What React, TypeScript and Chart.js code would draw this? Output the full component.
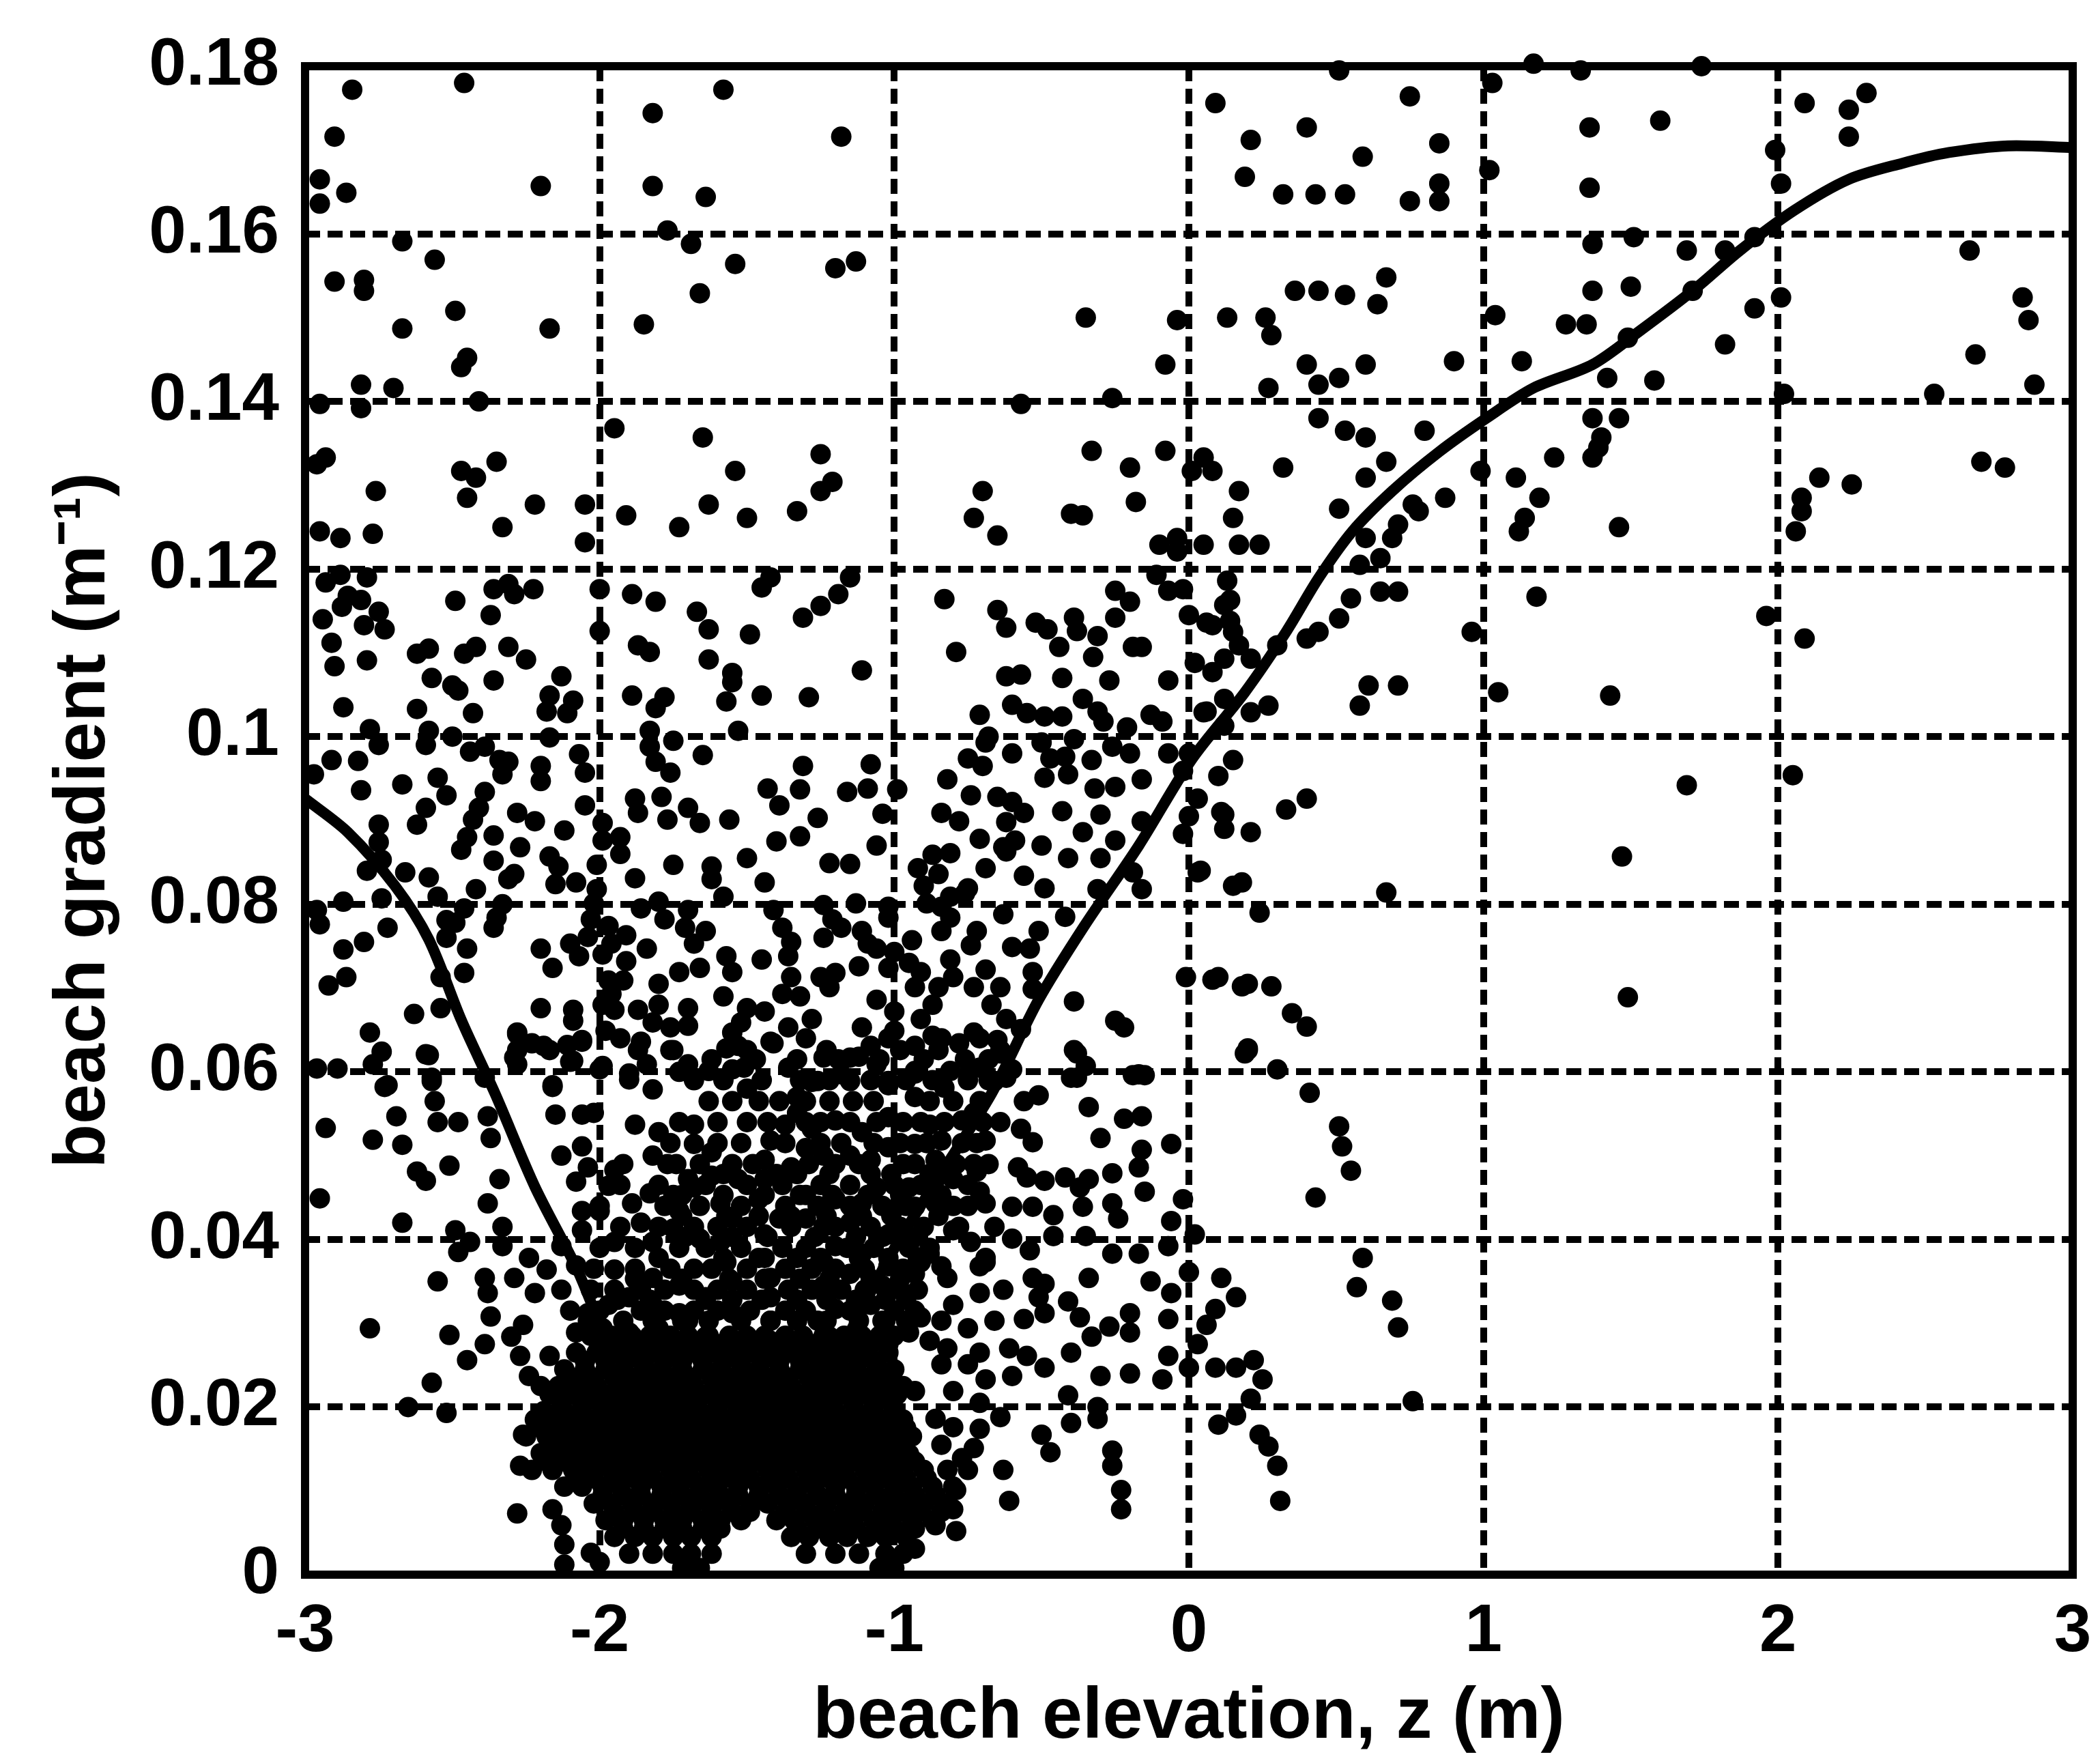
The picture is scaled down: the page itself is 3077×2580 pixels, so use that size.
import React, { useEffect, useRef } from "react";
import { Chart, registerables } from "chart.js";

Chart.register(...registerables);

const xTickLabels = ["-3", "-2", "-1", "0", "1", "2", "3"];
const yTickLabels = ["0", "0.02", "0.04", "0.06", "0.08", "0.1", "0.12", "0.14", "0.16", "0.18"];

// fitted curve: x, y
const curve = [-3,.0926,-2.855,.0886,-2.695,.0822,-2.58,.0758,-2.47,.0662,-2.355,.0574,-2.22,.0463,-2.08,.0367,-1.97,.0279,-1.81,.02,-1.63,.0136,-1.445,.0136,-1.26,.0215,-1.13,.0303,-1.01,.0383,-.855,.0471,-.67,.0574,-.51,.0686,-.355,.0774,-.17,.087,.01,.0973,.19,.1053,.33,.1125,.44,.1189,.555,.1245,.69,.1293,.85,.134,1.01,.138,1.17,.1416,1.37,.1444,1.53,.1484,1.71,.1532,1.87,.158,2.055,.1628,2.24,.1665,2.42,.1684,2.58,.1697,2.78,.1705,3,.1703];

// observations: x, y, x, y ...
const upperLeft = [-2.84,.1772,-2.46,.178,-2.9,.1716,-2.95,.1665,-2.86,.1649,-2.95,.1636,-2.2,.1657,-1.82,.1744,-1.58,.1772,-1.82,.1657,-1.64,.1644,-1.77,.1604,-1.69,.1588,-1.66,.1529,-1.54,.1564,-1.18,.1716,-1.2,.1559,-1.13,.1567,-1.85,.1492,-2.17,.1487,-2.67,.1487,-2.67,.1591,-2.56,.1569,-2.9,.1543,-2.8,.1532,-2.8,.1545,-2.49,.1508,-2.45,.1452,-2.47,.1441,-2.7,.1416,-2.81,.142,-2.41,.14,-2.95,.1397,-2.81,.1392,-.35,.15,-.57,.1397,-.26,.1404,-2.96,.1325,-2.93,.1333,-2.76,.1293,-2.47,.1317,-2.42,.1309,-2.35,.1328,-2.45,.1285,-2.22,.1277,-2.05,.1277,-1.95,.1368,-1.65,.1357,-1.54,.1317,-1.63,.1277,-1.5,.1261,-1.73,.125,-1.91,.1264,-1.25,.1337,-1.21,.1304,-1.25,.1293,-1.33,.1269,-2.33,.125,-2.95,.1245,-2.88,.1237,-2.77,.1242,-2.05,.1232,-.7,.1293,-.73,.1261,-.65,.124,-.4,.1266,-.36,.1264,-.33,.1341,-.2,.1321,-.18,.128,-.08,.1341,.01,.1317,.05,.1333,.08,.1317,.17,.1293,.15,.1261,-.1,.1229,-.04,.1237];

const upperRight = [.09,.1756,.21,.1712,.4,.1727,.19,.1668,.32,.1647,.59,.1692,.43,.1647,.53,.1647,.51,.1795,.75,.1764,.85,.1708,1.03,.178,.75,.1639,.85,.166,.85,.1639,1.02,.1676,1.17,.1803,1.33,.1795,1.36,.1727,1.6,.1735,1.74,.18,1.36,.1655,1.37,.1588,1.51,.1596,1.37,.1532,1.5,.1537,1.99,.17,2.09,.1756,2.24,.1748,2.3,.1768,2.24,.1716,2.01,.166,1.92,.1596,2.65,.158,2.83,.1524,2.85,.1497,2.01,.1524,-.04,.1497,-.08,.1444,.13,.15,.26,.15,.28,.1479,.36,.1532,.44,.1532,.53,.1527,.64,.1516,.67,.1548,1.04,.1503,.9,.1448,1.13,.1448,1.28,.1492,1.35,.1492,1.49,.1476,1.82,.1468,1.92,.1511,1.71,.1532,1.82,.158,1.69,.158,2.53,.1409,2.67,.1456,2.87,.142,2.02,.1409,1.58,.1425,1.42,.1428,2.69,.1328,2.77,.1321,2.25,.1301,2.14,.1309,2.08,.1285,2.08,.1269,2.06,.1245,2.09,.1117,1.96,.1144,2.05,.0954,1.69,.0942,1.43,.1049,1.05,.1053,1.18,.1167,1.47,.0857,1.49,.0689,.96,.1125,1.46,.125,1.37,.138,1.4,.1357,1.37,.1333,1.24,.1333,1.14,.1261,1.12,.1245,1.19,.1285,.99,.1317,1.11,.1309,.8,.1365,1.46,.138,1.39,.1345,.32,.1321,.51,.1272,.6,.1309,.67,.1328];

const rightOfCentre = [.27,.1416,.4,.1444,.44,.142,.51,.1428,.6,.1444,.44,.138,.53,.1365,.6,.1357,.76,.1277,.71,.1253,.69,.1237,.6,.1237,.65,.1213,.58,.1205,.71,.1173,.65,.1173,.55,.1165,.51,.1141,.44,.1125,.4,.1117,.78,.1269,.87,.1285,.71,.1061,.61,.1061,.58,.1037,.3,.1109,.21,.1093,.27,.1037,.21,.1029,.08,.1077,.05,.1029,.12,.1013,.4,.0926,.33,.0913,.21,.0886,.11,.091,.03,.0926,-.04,.1221,.05,.1229,.17,.1229,.24,.1229,.12,.1157,.08,.1133,.15,.1125,.12,.1093,.67,.0814,.24,.079,.15,.0822,.03,.0838,.08,.071,.18,.0702,.28,.0702,.35,.067,.4,.0654,.19,.0622,.3,.0603,.41,.0575,.51,.0535,.52,.0511,.55,.0482,.43,.045,.59,.0378,.57,.0343,.69,.0327,.71,.0295,.76,.0207];

const midBandA = [-2.93,.1184,-2.88,.1193,-2.79,.119,-2.855,.1168,-2.81,.1163,-2.875,.1155,-2.49,.1162,-2.36,.1176,-2.31,.1182,-2.29,.117,-2.225,.1176,-2,.1176,-1.89,.117,-1.81,.1161,-1.67,.1149,-1.63,.1128,-1.49,.1122,-1.31,.1142,-1.25,.1156,-1.19,.117,-1.45,.1178,-1.42,.119,-1.15,.119,-.83,.1164,-.65,.1151,-.62,.113,-.52,.1136,-.48,.1128,-.39,.1142,-.38,.1126,-.31,.112,-.44,.1107,-.325,.1095,-.19,.1107,-.16,.1107,-.25,.1174,-.2,.1161,-.25,.1142,-.07,.1174,-.02,.1176,-.11,.1193,.13,.1186,.14,.1163,.14,.1138,.06,.1136,0,.1145,.17,.1109,.02,.1088,-2.94,.114,-2.8,.1133,-2.73,.1128,-2.75,.1149,-2.91,.1112,-2.37,.1145,-2.58,.1105,-2.62,.1099,-2.42,.1107,-2.46,.1099,-2.31,.1107,-2.25,.1092,-2.9,.1084,-2.79,.1091,-1.87,.1109,-1.83,.1101,-1.63,.1092,-2,.1126,-.79,.1101,-1.11,.1079,-.62,.1072,-.57,.1074,-.43,.107,-.27,.1067,-.07,.1067,-2.57,.107,-2.5,.1061,-2.48,.1055,-2.36,.1067,-2.13,.1072,-1.55,.1076,-1.55,.1065];

const midBandB = [-2.87,.1035,-2.62,.1033,-2.43,.1028,-2.17,.1049,-2.18,.103,-2.09,.1043,-2.11,.1028,-1.89,.1049,-1.78,.1047,-1.81,.1034,-1.57,.1042,-1.45,.1049,-1.29,.1047,-.71,.1026,-.6,.1038,-.55,.1028,-.49,.1024,-.43,.1024,-.36,.1045,-.31,.103,-.29,.1018,-.21,.1011,-.13,.1026,-.09,.1018,.06,.103,.12,.1045,-2.78,.1009,-2.75,.099,-2.58,.1007,-2.59,.099,-2.5,.1,-2.17,.0999,-2.44,.0982,-2.39,.0988,-2.34,.0972,-2.31,.097,-2.33,.0955,-2.2,.0965,-2.2,.0947,-2.07,.0979,-2.05,.0957,-2.91,.0972,-2.82,.0971,-2.97,.0955,-1.83,.1007,-1.83,.0988,-1.81,.097,-1.76,.0957,-1.75,.0995,-1.65,.0978,-1.53,.1007,-1.31,.0965,-1.08,.0967,-.69,.0993,-.68,.1,-.75,.0974,-.7,.0965,-.6,.098,-.5,.0993,-.47,.0974,-.39,.0997,-.42,.0976,-.33,.0972,-.49,.0951,-.41,.0955,-.26,.0988,-.2,.098,-.07,.098,-.02,.0959,0,.098,-.16,.0949,-.82,.0949,.15,.0972,.1,.0953];

const midBandC = [-2.81,.0936,-2.67,.0943,-2.55,.0951,-2.52,.093,-2.59,.0915,-2.39,.0934,-2.41,.0915,-2.43,.0901,-2.62,.0895,-2.75,.0895,-2.75,.0874,-2.28,.0909,-2.22,.0899,-2.12,.0888,-2.05,.0918,-1.99,.0897,-1.99,.0876,-1.93,.088,-1.88,.0926,-1.87,.0909,-1.79,.0928,-1.77,.0901,-1.7,.0915,-1.66,.0897,-1.56,.0901,-1.43,.0938,-1.39,.0918,-1.32,.0937,-1.26,.0903,-1.32,.0881,-1.4,.0875,-1.16,.0934,-1.09,.0938,-.99,.0937,-1.04,.0908,-.32,.0938,-.25,.094,-.74,.093,-.65,.0928,-.6,.0922,-.56,.0909,-.84,.0909,-.78,.0899,-.62,.0898,-.43,.0911,-.3,.0907,-.36,.0886,-.16,.0899,.12,.0907,.12,.089,0,.0905,-.02,.0884,-.25,.0876,-.5,.087,-.71,.0878,-.63,.0868,-.59,.0876,-1.06,.087,-2.45,.088,-2.47,.0865,-2.36,.0882,-2.27,.0868,-2.17,.0857,-2.14,.0845,-1.93,.086,-2.36,.0852,-2.79,.084,-2.74,.0853,-2.66,.0838,-2.58,.0832,-2.29,.0836,-2.31,.083,-2.42,.0818,-1.75,.0847,-1.62,.0845,-1.62,.083,-1.5,.0855,-1.44,.0826,-1.22,.0849,-1.15,.0848,-1.88,.0831,-2.01,.0847,-2.08,.0826,-2.15,.0824,-2.01,.0818,-.87,.0859,-.81,.0861,-.92,.0843,-.85,.0836,-.9,.0822,-.69,.0843,-.56,.0834,-.49,.0819,-.41,.0855,-.3,.0855,-.62,.0863,.04,.084,.18,.0826,-.19,.0838,-.16,.0818,-.31,.0818,-.75,.0819,-.81,.0809,-1.58,.0809];

const midBandD = [-2.87,.0803,-2.74,.0807,-2.55,.0809,-2.33,.08,-2.96,.0793,-2.95,.0776,-2.72,.0772,-2.52,.0781,-2.46,.0795,-2.49,.0778,-2.35,.0784,-2.36,.0772,-2.52,.076,-2.45,.0747,-2.8,.0755,-2.87,.0746,-2.2,.0747,-2.02,.0801,-2.03,.0782,-1.97,.0774,-1.91,.0763,-1.84,.0747,-2.04,.0761,-2.1,.0753,-2.07,.0738,-1.99,.074,-1.96,.0753,-1.91,.0732,-1.86,.0795,-1.8,.0803,-1.78,.0782,-1.7,.0793,-1.71,.0772,-1.68,.0753,-1.64,.0768,-1.41,.0793,-1.38,.0772,-1.24,.0799,-1.21,.0782,-1.13,.0801,-1.18,.0772,-1.24,.076,-1.35,.0755,-1.36,.0738,-1.11,.0768,-1.09,.0753,-1.06,.0747,-1.02,.0797,-1.02,.0784,-.94,.0757,-1,.0743,-.95,.073,-.84,.0797,-.81,.0784,-.84,.0768,-.76,.0813,-.63,.0788,-.72,.0768,-.74,.0751,-.81,.0734,-.51,.0768,-.54,.0747,-.6,.0749,-.42,.0785,-.89,.0801,-2.46,.0718,-2.54,.0713,-2.86,.0713,-2.92,.0703,-2.16,.0724,-1.66,.0724,-1.57,.0738,-1.55,.0719,-1.45,.0734,-1.73,.0719,-1.8,.0705,-1.97,.0709,-1.92,.0709,-1.96,.0693,-1.25,.0713,-1.2,.0718,-1.22,.0701,-1.35,.0713,-1.38,.0693,-1.32,.069,-1.12,.0726,-1.02,.0724,-.91,.0719,-.8,.0713,-.69,.0722,-.64,.0701,-.53,.0719,-.53,.0699,-.73,.0701,-.39,.0684,-.01,.0713,.1,.0713,.2,.0705,-1.58,.069];

const midBandE = [-.93,.0701,-.85,.0701,-1.06,.0686,-1,.0672,-.87,.068,-.91,.0663,-.67,.068,-.62,.0663,-.57,.0651,-2.63,.0669,-2.54,.0676,-2.2,.0676,-2.09,.0674,-2.09,.0661,-1.99,.068,-1.95,.0674,-1.87,.0674,-1.8,.068,-1.82,.0659,-1.76,.0653,-1.7,.0655,-1.7,.0676,-1.5,.0676,-1.44,.0672,-1.52,.0659,-1.28,.0663,-.25,.0661,-.22,.0653,-2.78,.0647,-2.28,.0647,-1.11,.0653,-1,.0649,-1.36,.0653,-1.3,.064,-1.23,.0626,-1.55,.0647,-.73,.0647,-.65,.0638,-.87,.0643,-.78,.0634,-2.74,.0624,-2.77,.0609,-2.89,.0604,-2.96,.0604,-2.58,.062,-2.57,.0593,-2.72,.0584,-2.28,.0626,-2.28,.0609,-2.23,.0634,-2.17,.0626,-2.11,.0632,-2.06,.0638,-2.09,.0613,-1.99,.0607,-1.98,.0649,-1.93,.064,-1.87,.0626,-1.84,.0609,-1.9,.0591,-1.76,.0626,-1.7,.0609,-1.63,.0601,-1.57,.0628,-1.5,.0626,-1.41,.0634,-1.51,.0605,-1.36,.0605,-1.28,.0588,-1.12,.0618,-1.06,.0609,-1.18,.0597,-.98,.0626,-.85,.0626,-.93,.0601,-.81,.0601,-.71,.0605,-.64,.0622,-.62,.0593,-.83,.0581,-1.02,.0584,-2.16,.0584,-.38,.0622,-.38,.0593,-.17,.0597,.2,.0628,-2.39,.0593];

const lowerLeft = [-2.59,.0621,-2.57,.0589,-2.73,.0582,-2.56,.0565,-2.69,.0547,-2.93,.0533,-2.55,.054,-2.77,.0519,-2.67,.0513,-2.38,.0547,-2.37,.0521,-2.48,.054,-2.62,.0481,-2.51,.0488,-2.59,.047,-2.95,.0449,-2.34,.0472,-2.38,.0443,-2.67,.042,-2.49,.0411,-2.44,.0397,-2.48,.0385,-2.33,.0415,-2.33,.0392,-2.24,.0378,-2.55,.035,-2.39,.0354,-2.38,.0336,-2.29,.0354,-2.22,.0336,-2.13,.034,-2.18,.0364,-2.78,.0294,-2.51,.0286,-2.37,.0308,-2.39,.0275,-2.45,.0256,-2.26,.0298,-2.3,.0284,-2.27,.0261,-2.24,.0237,-2.17,.0261,-2.57,.0229,-2.65,.02,-2.52,.0193,-2.26,.0167,-2.27,.013,-2.28,.0073,-2.16,.0078,-2.13,.0059,-2.12,.0036,-2.12,.0012,-2,.0015,-2.03,.0026];

const lowerInner = [-2.28,.0645,-2.29,.0617,-2.19,.0631,-2.06,.0636,-2.1,.0612,-2,.0603,-1.86,.0636,-1.75,.0626,-1.9,.0598,-1.82,.0579,-1.73,.06,-2.16,.0582,-2.15,.0549,-2.06,.0549,-2.02,.0551,-1.88,.0537,-1.8,.0528,-2.06,.0511,-2.13,.05,-2.04,.0486,-2.08,.0469,-1.95,.0483,-1.97,.0464,-1.82,.05,-1.77,.049,-1.7,.0472,-1.83,.0455,-1.89,.0443,-1.86,.042,-2,.0434,-2.06,.0434,-1.75,.0453,-1.73,.0434,-1.75,.0413,-1.66,.0401,-1.82,.0397,-1.95,.0397,-2.06,.0411,-2.13,.0392,-2.08,.0369,-1.95,.0364,-1.82,.0354,-1.73,.0345];

const denseCore = [-1.68,.0537,-1.68,.0514,-1.62,.0504,-1.55,.049,-1.42,.0518,-1.44,.0495,-1.37,.0537,-1.33,.0551,-1.28,.0532,-1.33,.057,-1.26,.0589,-1.15,.0617,-1.08,.0631,-1.02,.064,-.93,.0631,-.84,.064,-.71,.064,-.64,.0626,-.6,.0603,-.66,.0589,-.73,.0551,-.69,.0518,-.73,.049,-.8,.0472,-.86,.0495,-.84,.0518,-.93,.0514,-1.02,.051,-1.08,.0495,-1.15,.05,-1.24,.05,-1.3,.0509,-1.35,.0486,-1.44,.0472,-1.53,.0472,-1.62,.0476,-1.68,.0462,-1.55,.0603,-1.5,.058,-1.39,.0565,-1.53,.0631,-1.42,.0636,-1.24,.0617,-1.15,.0589,-1.22,.0565,-1.02,.0589,-.93,.0598,-.84,.0589,-.93,.057,-1.02,.0546,-.88,.0537,-.77,.0542,-1.2,.0542,-1.11,.0528,-1.59,.0443,-1.55,.0425,-1.46,.0448,-1.39,.0425,-1.44,.0406,-1.3,.0453,-1.3,.0425,-1.24,.0415,-1.2,.0448,-1.11,.0443,-1.15,.042,-1.06,.0462,-.95,.0462,-.93,.0439,-1.02,.0406,-.86,.0443,-.86,.0472,-1.59,.0397,-1.57,.0373,-1.55,.035,-1.44,.0378,-1.42,.0354,-1.42,.0331,-1.2,.0392,-1.24,.0373,-1.15,.0359,-1.02,.0368,-1.04,.0345,-1.11,.0383,-1.24,.0345,-1.08,.0322,-1.2,.0317,-1.42,.0303,-1.55,.0312,-1.64,.0331,-1.73,.0312,-1.82,.0322,-1.9,.0331,-1.97,.0322,-1.8,.0294,-1.9,.0289,-1.99,.0294,-2.04,.0312,-2.08,.0289,-1.26,.0303,-1.04,.0303,-1.22,.0284,-1.42,.0279,-1.64,.0284,-1.7,.0303];

const lowerRight = [-.91,.0373,-.93,.0359,-.84,.0368,-.82,.0354,-.71,.0368,-.69,.0378,-.71,.0336,-.63,.034,-.53,.0354,-.49,.0347,-.34,.0354,-.51,.0331,-.56,.0305,-.49,.0312,-.41,.0326,-.37,.0307,-.33,.0284,-.27,.0296,-.2,.0312,-.2,.0289,-.13,.035,-.06,.0336,0,.0361,.11,.0354,.16,.0331,.09,.0317,.06,.0298,.03,.0275,-.07,.0305,0,.0247,.09,.0247,.16,.0247,.22,.0256,.25,.0233,.21,.021,.16,.019,.1,.0179,.24,.0167,.27,.0153,.3,.013,.31,.0088,-.3,.0237,-.2,.024,-.09,.0233,-.07,.0261,-.41,.0214,-.4,.0181,-.31,.02,-.31,.0186,-.5,.0167,-.47,.0146,-.26,.0148,-.26,.013,-.23,.0101,-.23,.0078,-.63,.0125,-.61,.0088,-.79,.0052,-.64,.0188,-.6,.0237,-.49,.0247,-.55,.0261,-.4,.0265,-.61,.027,-.66,.0303,-.75,.0294,-.84,.0303,-.8,.0322,-.91,.0307,-.95,.0289,-.82,.027,-.88,.0279,-.71,.0265,-.75,.0251,-.84,.0251,-.69,.0233,-.8,.0219,-.71,.0205,-.93,.0219,-.86,.0186,-.8,.0176,-.71,.0174,-.73,.0151,-.84,.0155,-.77,.0139,-.82,.0125,-.75,.0125,-.79,.0101,-.8,.0078,-.86,.0059,-.93,.0031,-1.02,.001,-.95,.0144];

const rightOfCurve = [-.39,.0626,-.35,.0607,-.4,.0593,.2,.0626,-.19,.0596,-.15,.0596,-.51,.0572,-.56,.0565,-.34,.0558,-.16,.0547,-.22,.0544,-.57,.0532,-.53,.0516,-.3,.0521,-.16,.0507,-.06,.0514,-.17,.0486,-.58,.0486,-.55,.0474,-.49,.047,-.42,.0474,-.34,.0472,-.26,.0479,-.37,.0462,-.15,.0457,-.02,.0448,-.72,.0481,-.71,.0457,-.69,.0443,-.6,.0439,-.53,.0439,-.46,.0429,-.36,.0439,-.26,.0443,-.24,.0425,-.06,.0422,.02,.0406,-.66,.0415,-.8,.0411,-.74,.0397,-.6,.0401,-.54,.0387,-.46,.0404,-.35,.0404,-.26,.0383,-.17,.0383,-.07,.0392,-.88,.0383,-.69,.0373];

// the dark band above the mass, one list of elevations per gradient level
const bandGradients = [.0615,.059,.0565,.054,.0515,.049,.0465,.044,.0415,.039,.0365,.034,.0315,.0478,.0453,.0428,.0403,.0378,.0353,.0328,.0303];
const bandElevations = [
  [-1.62,-1.47,-1.33,-1.19,-1.05,-.9,-.76,-.68],
  [-1.68,-1.58,-1.45,-1.32,-1.22,-1.08,-.96,-.87,-.75,-.68],
  [-1.63,-1.55,-1.46,-1.3,-1.14,-1.07,-.88,-.8,-.71],
  [-1.73,-1.6,-1.5,-1.43,-1.3,-1.25,-1.15,-1.06,-.97,-.91,-.83,-.7,-.64],
  [-1.76,-1.6,-1.52,-1.37,-1.25,-1.18,-1.07,-.98,-.89,-.77,-.72],
  [-1.92,-1.74,-1.66,-1.48,-1.29,-1.2,-1.12,-.97,-.93,-.79,-.68],
  [-1.93,-1.8,-1.64,-1.5,-1.38,-1.25,-1.15,-1,-.91,-.75],
  [-2,-1.78,-1.66,-1.52,-1.37,-1.26,-1.15,-1.04,-.96,-.8,-.75],
  [-1.93,-1.8,-1.68,-1.6,-1.5,-1.35,-1.2,-1.08,-.98,-.9,-.78],
  [-2,-1.88,-1.73,-1.64,-1.52,-1.38,-1.3,-1.16,-1.07,-.95,-.88],
  [-2.02,-1.88,-1.76,-1.68,-1.62,-1.5,-1.37,-1.28,-1.2,-1.1,-.97],
  [-2.03,-1.95,-1.86,-1.78,-1.68,-1.6,-1.5,-1.36,-1.28,-1.18,-1.1,-.98,-.92],
  [-2.1,-2,-1.86,-1.78,-1.68,-1.6,-1.49,-1.37,-1.3,-1.15,-1,-.93],
  [-1.58,-1.4,-1.33,-1.22,-1.08,-1.01,-.88],
  [-1.72,-1.58,-1.44,-1.32,-1.21,-1.09,-.98,-.84],
  [-1.72,-1.57,-1.46,-1.35,-1.23,-1.11,-1.01,-.85],
  [-1.71,-1.55,-1.43,-1.27,-1.13,-1.04,-.93],
  [-1.8,-1.58,-1.46,-1.33,-1.25,-1.12,-1.02,-.92],
  [-1.88,-1.72,-1.56,-1.44,-1.32,-1.22,-1.08,-.98],
  [-1.94,-1.83,-1.64,-1.55,-1.45,-1.33,-1.23,-1.13,-1.03,-.96],
  [-2.04,-1.92,-1.82,-1.72,-1.63,-1.52,-1.42,-1.33,-1.23,-1.12,-1.03,-.96],
];

// the black mass at low gradient, one list of elevations per gradient level
const massGradients = [.0285,.0265,.0245,.0225,.0205,.0185,.0165,.0145,.0125,.0105,.0085,.0065,.0045,.0025,.0008,.0275,.0255,.0235,.0215,.0195,.0175,.0155,.0135,.0115,.0095,.0075,.0055];
const massElevations = [
  [-2.03,-1.96,-1.89,-1.83,-1.76,-1.7,-1.63,-1.56,-1.5,-1.44,-1.37,-1.31,-1.24,-1.17,-1.11,-1.05,-1],
  [-2.08,-2.01,-1.95,-1.88,-1.82,-1.75,-1.68,-1.62,-1.55,-1.49,-1.42,-1.35,-1.29,-1.22,-1.15,-1.09,-1.02],
  [-2.12,-2.05,-1.98,-1.92,-1.85,-1.79,-1.72,-1.65,-1.59,-1.52,-1.46,-1.39,-1.32,-1.26,-1.19,-1.13,-1.06,-1],
  [-2.2,-2.14,-2.07,-2.01,-1.94,-1.87,-1.81,-1.74,-1.68,-1.61,-1.54,-1.48,-1.41,-1.35,-1.28,-1.21,-1.15,-1.08,-1.02,-.97],
  [-2.13,-2.06,-2,-1.93,-1.87,-1.8,-1.73,-1.67,-1.6,-1.54,-1.47,-1.4,-1.34,-1.27,-1.21,-1.14,-1.07,-1.01],
  [-2.22,-2.16,-2.09,-2.03,-1.96,-1.89,-1.83,-1.76,-1.7,-1.63,-1.56,-1.5,-1.43,-1.37,-1.3,-1.23,-1.17,-1.1,-1.04,-.97],
  [-2.25,-2.18,-2.11,-2.05,-1.98,-1.92,-1.85,-1.78,-1.72,-1.65,-1.59,-1.52,-1.45,-1.39,-1.32,-1.26,-1.19,-1.12,-1.06,-.99,-.94],
  [-2.2,-2.13,-2.07,-2,-1.94,-1.87,-1.8,-1.74,-1.67,-1.61,-1.54,-1.47,-1.41,-1.34,-1.28,-1.21,-1.14,-1.08,-1.01,-.96],
  [-2.23,-2.16,-2.09,-2.03,-1.96,-1.9,-1.83,-1.76,-1.7,-1.63,-1.57,-1.5,-1.43,-1.37,-1.3,-1.24,-1.17,-1.1,-1.04,-.97,-.9],
  [-2.12,-2.06,-1.99,-1.93,-1.86,-1.79,-1.73,-1.66,-1.6,-1.53,-1.46,-1.4,-1.33,-1.27,-1.2,-1.13,-1.07,-1,-.94,-.87,-.8],
  [-2.02,-1.96,-1.89,-1.82,-1.76,-1.69,-1.63,-1.56,-1.49,-1.43,-1.36,-1.3,-1.23,-1.16,-1.1,-1.03,-.97,-.9,-.83],
  [-1.98,-1.92,-1.85,-1.78,-1.72,-1.65,-1.59,-1.52,-1.4,-1.34,-1.27,-1.21,-1.14,-1.07,-1.01,-.94,-.87],
  [-1.95,-1.88,-1.82,-1.75,-1.69,-1.62,-1.35,-1.29,-1.22,-1.16,-1.09,-1.03,-.96],
  [-1.9,-1.82,-1.75,-1.69,-1.62,-1.3,-1.2,-1.12,-1.03,-.97],
  [-1.72,-1.66,-1.05,-1],
  [-2,-1.93,-1.86,-1.79,-1.73,-1.66,-1.6,-1.53,-1.47,-1.4,-1.34,-1.27,-1.21,-1.14,-1.08,-1.02],
  [-2.05,-1.98,-1.91,-1.85,-1.78,-1.72,-1.65,-1.58,-1.52,-1.45,-1.39,-1.32,-1.25,-1.19,-1.12,-1.06],
  [-2.09,-2.02,-1.95,-1.89,-1.82,-1.76,-1.69,-1.62,-1.56,-1.49,-1.43,-1.36,-1.29,-1.23,-1.16,-1.1,-1.03],
  [-2.17,-2.1,-2.04,-1.97,-1.91,-1.84,-1.77,-1.71,-1.64,-1.58,-1.51,-1.44,-1.38,-1.31,-1.25,-1.18,-1.11,-1.05,-.99],
  [-2.19,-2.12,-2.06,-1.99,-1.93,-1.86,-1.79,-1.73,-1.66,-1.6,-1.53,-1.46,-1.4,-1.33,-1.27,-1.2,-1.13,-1.07,-1],
  [-2.2,-2.13,-2.07,-2,-1.94,-1.87,-1.81,-1.74,-1.67,-1.61,-1.54,-1.48,-1.41,-1.34,-1.28,-1.21,-1.15,-1.08,-1.01,-.96],
  [-2.16,-2.1,-2.03,-1.97,-1.9,-1.83,-1.77,-1.7,-1.64,-1.57,-1.5,-1.44,-1.37,-1.31,-1.24,-1.17,-1.11,-1.04,-.98],
  [-2.18,-2.12,-2.05,-1.99,-1.92,-1.85,-1.79,-1.72,-1.66,-1.59,-1.52,-1.46,-1.39,-1.33,-1.26,-1.19,-1.13,-1.06,-1,-.93],
  [-2.08,-2.02,-1.95,-1.88,-1.82,-1.75,-1.69,-1.62,-1.55,-1.49,-1.42,-1.36,-1.29,-1.22,-1.16,-1.09,-1.03,-.96,-.89],
  [-1.99,-1.92,-1.86,-1.79,-1.72,-1.66,-1.59,-1.53,-1.46,-1.39,-1.33,-1.26,-1.2,-1.13,-1.06,-1,-.93,-.86],
  [-1.95,-1.88,-1.82,-1.75,-1.69,-1.62,-1.55,-1.49,-1.37,-1.3,-1.24,-1.17,-1.11,-1.04,-.97,-.91,-.84],
  [-1.92,-1.85,-1.78,-1.72,-1.65,-1.59,-1.33,-1.26,-1.19,-1.13,-1.06,-1,-.93],
];

const pairs = (flat: number[]) => {
  const out: { x: number; y: number }[] = [];
  for (let i = 0; i + 1 < flat.length; i += 2) out.push({ x: flat[i], y: flat[i + 1] });
  return out;
};

export default function App() {
  const ref = useRef<HTMLCanvasElement>(null);
  useEffect(() => {
    document.body.style.margin = "0";
    const mass = massGradients.flatMap((y, i) => massElevations[i].map((x) => ({ x, y })));
    const band = bandGradients.flatMap((y, i) => bandElevations[i].map((x) => ({ x, y })));
    const points = [
      ...pairs(upperLeft), ...pairs(upperRight), ...pairs(rightOfCentre), ...pairs(midBandA),
      ...pairs(midBandB), ...pairs(midBandC), ...pairs(midBandD), ...pairs(midBandE),
      ...pairs(lowerLeft), ...pairs(lowerInner), ...pairs(denseCore), ...pairs(lowerRight),
      ...pairs(rightOfCurve), ...band, ...mass,
    ];
    const frame = {
      id: "frame",
      afterDatasetsDraw(c: any) {
        const a = c.chartArea;
        c.ctx.save();
        c.ctx.strokeStyle = "#000";
        c.ctx.lineWidth = 12;
        c.ctx.strokeRect(a.left, a.top, a.right - a.left, a.bottom - a.top);
        c.ctx.restore();
      },
    };
    const tickFont = { family: "'Liberation Sans'", size: 98, weight: "bold" as const };
    const titleFont = { family: "'Liberation Sans'", size: 106, weight: "bold" as const };
    const gridCommon = { color: "#000", lineWidth: 10, drawTicks: false };
    const chart = new Chart(ref.current!, {
      type: "scatter",
      data: {
        datasets: [
          { label: "curve", type: "line", data: pairs(curve), borderColor: "#000", borderWidth: 16, pointRadius: 0, tension: 0.3, clip: false } as any,
          { label: "obs", data: points, backgroundColor: "#000", borderWidth: 0, pointRadius: 15, pointStyle: "circle", clip: false } as any,
        ],
      },
      plugins: [frame],
      options: {
        responsive: false,
        animation: false,
        layout: { padding: { top: 97, right: 40, left: 0, bottom: 0 } },
        plugins: { legend: { display: false }, tooltip: { enabled: false } },
        scales: {
          x: {
            type: "linear", min: -3, max: 3,
            afterFit: (s: any) => { s.height = 273; s.paddingRight = 0; s.paddingLeft = 0; },
            afterBuildTicks: (s: any) => { s.ticks = xTickLabels.map((l) => ({ value: Number(l) })); },
            ticks: { color: "#000", font: tickFont, padding: 26, maxRotation: 0, callback: (v: any) => String(v) },
            grid: gridCommon,
            border: { display: false, dash: [22, 11] },
            title: { display: true, text: "beach elevation, z (m)", color: "#000", font: titleFont, padding: { top: 0, bottom: 0 } },
          },
          y: {
            type: "linear", min: 0, max: 0.18,
            afterFit: (s: any) => { s.width = 447; },
            afterBuildTicks: (s: any) => { s.ticks = yTickLabels.map((l) => ({ value: Number(l) })); },
            ticks: { color: "#000", font: tickFont, padding: 38, callback: (v: any) => String(v) },
            grid: gridCommon,
            border: { display: false, dash: [22, 11] },
            title: { display: true, text: "beach gradient (m⁻¹)", color: "#000", font: titleFont, padding: { top: 60, bottom: 0 } },
          },
        },
      },
    });
    return () => chart.destroy();
  }, []);
  return <canvas ref={ref} width={3077} height={2580} style={{ display: "block", background: "#fff" }} />;
}
